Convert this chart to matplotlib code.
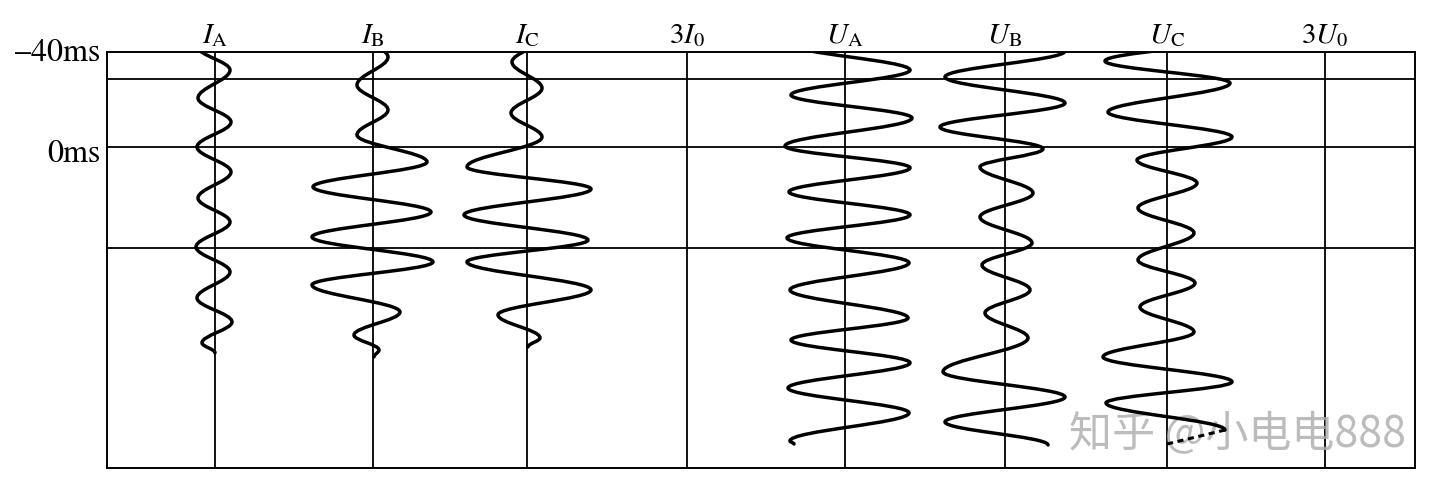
import numpy as np
import matplotlib.pyplot as plt
from matplotlib.path import Path
from matplotlib.patches import PathPatch

plt.rcParams['mathtext.fontset'] = 'stix'

# channel names, left to right
channels = [r'$I_{\mathrm{A}}$', r'$I_{\mathrm{B}}$', r'$I_{\mathrm{C}}$', r'$3I_0$',
            r'$U_{\mathrm{A}}$', r'$U_{\mathrm{B}}$', r'$U_{\mathrm{C}}$', r'$3U_0$']

# time marks (ms) drawn as horizontal rules
rule_ms = [-28.6, 0.0, 42.5]
time_labels = ['\u201340ms', '0ms']
time_label_ms = [-40, 0]

# waveform extremes: time (ms) and deflection (px from channel axis)
ia_t = [-42.1, -32.4, -20.6, -10.5, 0.0, 10.5, 21.5, 31.6, 42.1, 52.6, 63.6, 73.7, 82.5, 86.7]
ia_v = [-17, 15, -17, 16, -18, 16, -17, 15, -19, 15, -18, 17, -13, 0]

ib_t = [-48.4, -37.9, -26.1, -15.6, -5.1, 6.3, 16.8, 27.4, 37.9, 48.4, 58.1, 69.5, 79.2, 85.5, 88.4]
ib_v = [-16, 15, -16, 15, -16, 54, -60, 58, -61, 60, -61, 27, -19, 6, 1]

ic_t = [-45.9, -35.8, -24.8, -14.3, -4.2, 8.4, 17.7, 28.6, 39.2, 48.4, 60.2, 70.7, 80.4, 84.2]
ic_v = [15, -15, 15, -16, 15, -60, 64, -63, 61, -60, 64, -29, 13, 1]

ua_t = [-43.4, -32.4, -21.9, -12.2, -0.4, 8.8, 18.9, 28.6, 38.3, 48.8, 60.2, 72.0, 81.3,
        90.9, 101.5, 112.0, 123.8, 125.1]
ua_v = [-55, 65, -54, 67, -60, 65, -56, 65, -58, 64, -55, 63, -54, 65, -57, 64, -55, -51]

ub_t = [-40.4, -29.5, -18.5, -8.4, 0.8, 8.4, 19.4, 29.5, 40.4, 49.7, 60.2, 69.9, 80.4,
        94.7, 105.3, 115.8, 125.5]
ub_v = [60, -60, 60, -65, 38, -25, 28, -25, 27, -23, 25, -20, 23, -62, 60, -60, 43]

uc_t = [-45.9, -36.2, -26.9, -14.7, -4.2, 5.5, 15.2, 25.7, 36.2, 47.6, 57.3, 67.4, 77.9,
        88.4, 98.9, 107.8, 119.2]
uc_v = [62, -62, 63, -59, 65, -30, 30, -29, 27, -29, 28, -27, 27, -64, 65, -61, 58]
uc_tail_t = [119.2, 125.1]
uc_tail_v = [58, 0]

waves = {0: (ia_t, ia_v), 1: (ib_t, ib_v), 2: (ic_t, ic_v),
         4: (ua_t, ua_v), 5: (ub_t, ub_v), 6: (uc_t, uc_v)}

# layout (px across the chart)
chan_x = [215, 373, 527, 687, 845, 1005, 1167, 1325]
x_left, x_right = 107, 1415
t_top, t_bottom = -40, 135.2


def wave_path(x0, t, v, k=0.364):
    # peaks joined by cubic curves, tangent along the time axis at each peak
    verts = [(x0 + v[0], t[0])]
    codes = [Path.MOVETO]
    for i in range(1, len(t)):
        dt = t[i] - t[i - 1]
        verts += [(x0 + v[i - 1], t[i - 1] + k * dt),
                  (x0 + v[i], t[i] - k * dt),
                  (x0 + v[i], t[i])]
        codes += [Path.CURVE4] * 3
    return Path(verts, codes)


fig = plt.figure(figsize=(14.4, 4.97), dpi=100)
ax = fig.add_axes([x_left / 1440, 1 - 468 / 497, (x_right - x_left) / 1440, (468 - 52) / 497])
ax.set_xlim(x_left, x_right)
ax.set_ylim(t_bottom, t_top)
ax.set_xticks([])
ax.set_yticks([])
for sp in ax.spines.values():
    sp.set_linewidth(1.4)
    sp.set_color('black')

for t in rule_ms:
    ax.axhline(t, color='black', lw=1.3, zorder=1)
for x in chan_x:
    ax.axvline(x, color='black', lw=1.3, zorder=1)

for idx, (t, v) in waves.items():
    ax.add_patch(PathPatch(wave_path(chan_x[idx], t, v), fill=False, lw=2.5,
                           edgecolor='black', capstyle='round', zorder=3))

ax.plot([chan_x[6] + uc_tail_v[0], chan_x[6] + uc_tail_v[1]], uc_tail_t,
        color='black', lw=2.2, ls=(0, (2, 1.5)), zorder=3)

for x, lab in zip(chan_x, channels):
    ax.text(x, -43.6, lab, ha='center', va='baseline', fontsize=21, clip_on=False)

ax.text(100, time_label_ms[0] + 0.6, time_labels[0], ha='right', va='center', fontsize=23,
        family='STIXGeneral', clip_on=False)
ax.text(100, time_label_ms[1] + 3.2, time_labels[1], ha='right', va='center', fontsize=23,
        family='STIXGeneral', clip_on=False)

# watermark sits under the traces
ax.text(1406, 121.3, '知乎 @小电电888', ha='right', va='center', fontsize=31,
        family=['Noto Sans CJK SC', 'DejaVu Sans'], color='#acacac', alpha=0.8, zorder=2)

fig.savefig('out.png', dpi=100)
